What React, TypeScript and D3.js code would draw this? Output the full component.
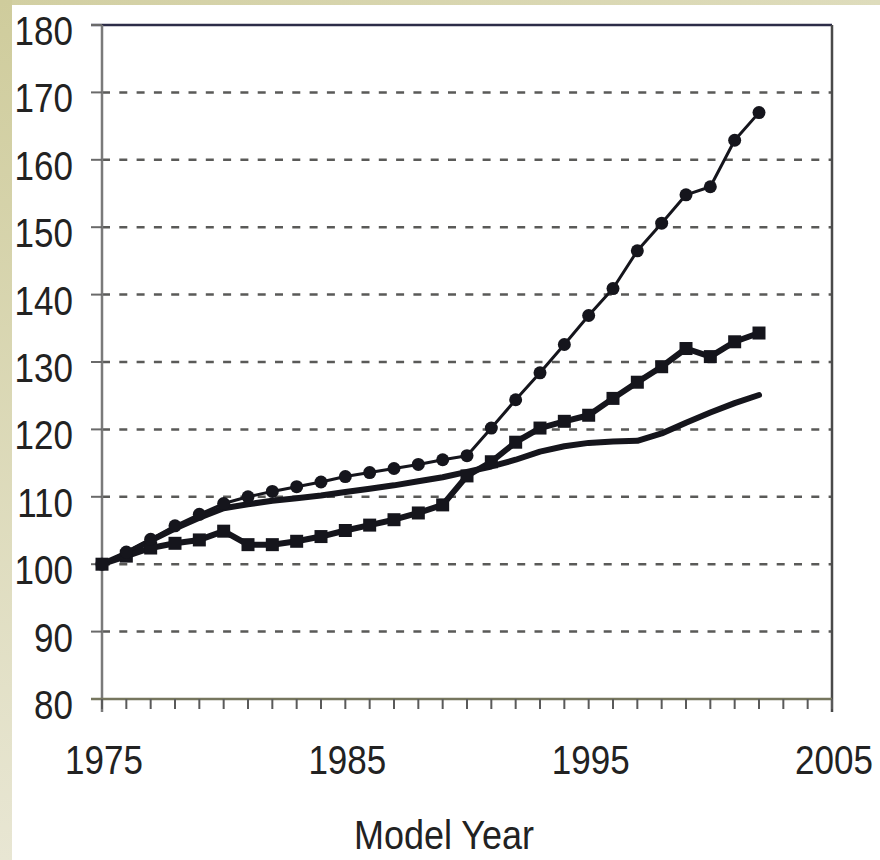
import React from "react";
import * as d3 from "d3";

const years = d3.range(1975, 2003);
const seriesDots = [100, 101.8, 103.7, 105.7, 107.4, 109.0, 110.0, 110.8, 111.5, 112.2, 113.0, 113.6, 114.2, 114.8, 115.5, 116.1, 120.2, 124.4, 128.4, 132.6, 136.9, 140.9, 146.5, 150.6, 154.8, 156.0, 162.9, 167.0];
const seriesSquares = [100, 101.2, 102.4, 103.1, 103.6, 104.9, 102.9, 102.9, 103.4, 104.1, 105.0, 105.8, 106.6, 107.6, 108.8, 113.1, 115.2, 118.1, 120.2, 121.2, 122.1, 124.6, 127.0, 129.3, 132.0, 130.8, 133.0, 134.3];
const seriesPlain = [100, 101.6, 103.5, 105.3, 106.9, 108.3, 108.9, 109.4, 109.8, 110.2, 110.7, 111.2, 111.7, 112.3, 112.9, 113.7, 114.5, 115.5, 116.7, 117.5, 118.0, 118.2, 118.3, 119.4, 121.0, 122.5, 123.9, 125.1];
const yTicks = [80, 90, 100, 110, 120, 130, 140, 150, 160, 170, 180];
const xTickLabels = [1975, 1985, 1995, 2005];
const minorYears = d3.range(1975, 2006);
const xTitle = "Model Year";

const W = 880, H = 860;
const x = d3.scaleLinear().domain([1975, 2005]).range([102, 832]);
const y = d3.scaleLinear().domain([80, 180]).range([699, 25]);

const FONT = "'Liberation Sans', Arial, sans-serif";

export default function App() {
  const line = d3.line<number>().x((_, i) => x(years[i])).y((d) => y(d));
  const ink = "#15151c";
  return (
    <svg width={W} height={H} style={{ position: "absolute", left: 0, top: 0, background: "#fff" }}>
      <defs>
        <linearGradient id="strip" x1="0" y1="0" x2="0" y2="1">
          <stop offset="0" stopColor="#cfcc9c" />
          <stop offset="1" stopColor="#e8e6d3" />
        </linearGradient>
        <linearGradient id="topstrip" x1="0" y1="0" x2="1" y2="0">
          <stop offset="0" stopColor="#d2cfa2" />
          <stop offset="1" stopColor="#dedcbc" />
        </linearGradient>
      </defs>
      <rect x={0} y={0} width={W} height={H} fill="#fff" />
      <rect x={0} y={0} width={W} height={5} fill="url(#topstrip)" />
      <rect x={0} y={0} width={12} height={H} fill="url(#strip)" />

      {/* gridlines */}
      {yTicks.filter((t) => t > 80 && t < 180).map((t) => (
        <line key={t} x1={x(1975)} x2={x(2005)} y1={y(t)} y2={y(t)} stroke="#5a5a58" strokeWidth={2.5} strokeDasharray="8,9.3" />
      ))}
      {/* top and right frame */}
      <line x1={91} x2={x(2005)} y1={y(180)} y2={y(180)} stroke="#2d2d48" strokeWidth={2.5} />
      <line x1={x(2005)} x2={x(2005)} y1={y(180)} y2={y(80) + 13} stroke="#4a4a4a" strokeWidth={2.5} />
      {/* y axis */}
      <line x1={x(1975)} x2={x(1975)} y1={y(180)} y2={y(80) + 13} stroke="#7a7a7a" strokeWidth={2.5} />
      {yTicks.map((t) => (
        <line key={"yt" + t} x1={91} x2={x(1975)} y1={y(t)} y2={y(t)} stroke="#6a6a6a" strokeWidth={2} />
      ))}
      {/* x axis */}
      <line x1={91} x2={x(2005)} y1={y(80)} y2={y(80)} stroke="#76765e" strokeWidth={2.5} />
      {minorYears.map((yr) => (
        <line key={"xt" + yr} x1={x(yr)} x2={x(yr)} y1={y(80)} y2={y(80) + 10} stroke="#5a5a5a" strokeWidth={2} />
      ))}

      {/* y labels */}
      {yTicks.map((t) => (
        <text key={"yl" + t} transform={`translate(73,${y(t) + 20}) scale(1,1.15)`} textAnchor="end" fontFamily={FONT} fontSize={35} fill="#222">
          {t}
        </text>
      ))}
      {/* x labels */}
      {xTickLabels.map((t) => (
        <text key={"xl" + t} transform={`translate(${x(t) + 2},${y(80) + 75}) scale(1,1.15)`} textAnchor="middle" fontFamily={FONT} fontSize={35} fill="#222">
          {t}
        </text>
      ))}
      <text transform={`translate(444,849) scale(1,1.12)`} textAnchor="middle" fontFamily={FONT} fontSize={36} fill="#222">
        {xTitle}
      </text>

      {/* series */}
      <path d={line(seriesPlain) || ""} fill="none" stroke={ink} strokeWidth={6} strokeLinejoin="round" strokeLinecap="round" />
      <path d={line(seriesSquares) || ""} fill="none" stroke={ink} strokeWidth={6} strokeLinejoin="round" />
      {seriesSquares.map((v, i) => (
        <rect key={"sq" + i} x={x(years[i]) - 6.5} y={y(v) - 6.5} width={13} height={13} fill={ink} />
      ))}
      <path d={line(seriesDots) || ""} fill="none" stroke={ink} strokeWidth={3} strokeLinejoin="round" />
      {seriesDots.map((v, i) => (
        <circle key={"dt" + i} cx={x(years[i])} cy={y(v)} r={6.5} fill={ink} />
      ))}
    </svg>
  );
}
